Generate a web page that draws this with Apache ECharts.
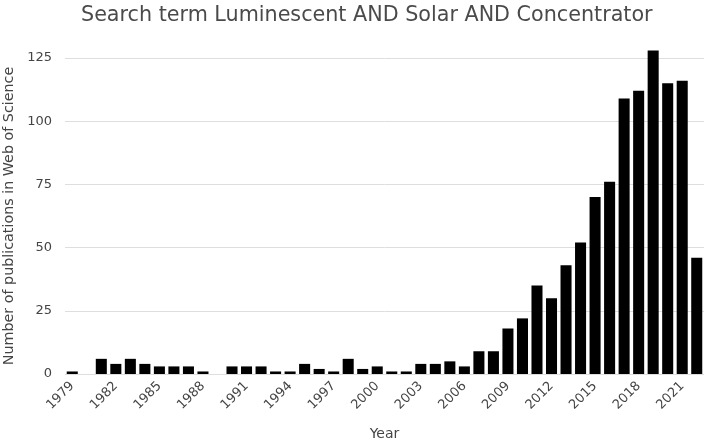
<!DOCTYPE html>
<html>
<head>
<meta charset="utf-8">
<script src="https://cdn.jsdelivr.net/npm/echarts@6/dist/echarts.min.js"></script>
<style>
  html, body { margin: 0; padding: 0; background: #fff; }
  #main { width: 706px; height: 444px; }
</style>
</head>
<body>
<div id="main"></div>
<script>
// 年份
var years = [];
for (var y = 1979; y <= 2022; y++) years.push(String(y));

// 每年发表数量
var counts = [
  1, 0, 6, 4, 6, 4, 3, 3, 3, 1,
  0, 3, 3, 3, 1, 1, 4, 2, 1, 6,
  2, 3, 1, 1, 4, 4, 5, 3, 9, 9,
  18, 22, 35, 30, 43, 52, 70, 76, 109, 112,
  128, 115, 116, 46
];

var yTicks = [0, 25, 50, 75, 100, 125];

var textColor = '#444';
var fontName = '"DejaVu Sans", sans-serif';

var myChart = echarts.init(document.getElementById('main'));

var option = {
  animation: false,
  backgroundColor: '#fff',
  title: {
    text: 'Search term Luminescent AND Solar AND Concentrator',
    left: 76,
    top: 0,
    textStyle: { fontFamily: fontName, fontSize: 20.7, fontWeight: 'normal', color: '#4a4a4a' }
  },
  grid: { left: 65, right: 2, top: 58, bottom: 70, outerBoundsMode: 'none' },
  xAxis: {
    type: 'category',
    data: years,
    name: 'Year',
    nameLocation: 'middle',
    nameGap: 53,
    nameTextStyle: { fontFamily: fontName, fontSize: 14, color: textColor },
    axisLine: { show: false },
    axisTick: { show: false },
    axisLabel: {
      interval: 2,
      rotate: 45,
      margin: 10,
      fontFamily: fontName,
      fontSize: 13,
      color: textColor
    }
  },
  yAxis: {
    type: 'value',
    min: 0,
    max: yTicks[yTicks.length - 1],
    interval: 25,
    name: 'Number of publications in Web of Science',
    nameLocation: 'middle',
    nameGap: 47,
    nameTextStyle: { fontFamily: fontName, fontSize: 14.3, color: textColor },
    axisLabel: { fontFamily: fontName, fontSize: 13, color: textColor, margin: 13 },
    splitLine: { lineStyle: { color: '#dedede', width: 1 } }
  },
  series: [{
    type: 'bar',
    data: counts,
    clip: false,
    barCategoryGap: '24%',
    itemStyle: { color: '#000' }
  }]
};

myChart.setOption(option);
</script>
</body>
</html>
